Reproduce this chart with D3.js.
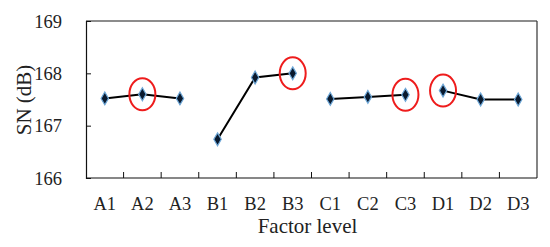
<!DOCTYPE html>
<html>
<head>
<meta charset="utf-8">
<script src="https://cdn.jsdelivr.net/npm/d3@7"></script>
<style>
  body { margin: 0; background: #fff; }
</style>
</head>
<body>
<div id="chart"></div>
<script>
// factor levels and SN ratios
const levels = ['A1', 'A2', 'A3', 'B1', 'B2', 'B3', 'C1', 'C2', 'C3', 'D1', 'D2', 'D3']
const groups = ['A', 'B', 'C', 'D']
const snValues = [167.52, 167.60, 167.52, 166.74, 167.92, 168.00, 167.51, 167.55, 167.59, 167.67, 167.50, 167.50]
const bestLevels = ['A2', 'B3', 'C3', 'D1']
const yTicks = [166, 167, 168, 169]

const width = 550
const height = 247
const margin = { top: 21, right: 13, bottom: 69, left: 86 }
const serif = "'Liberation Serif', 'Times New Roman', serif"

const svg = d3.select('#chart')
  .append('svg')
  .attr('width', width)
  .attr('height', height)
  .attr('font-family', serif)

const plotW = width - margin.left - margin.right
const plotH = height - margin.top - margin.bottom

const g = svg.append('g')
  .attr('transform', `translate(${margin.left},${margin.top})`)

const xScale = d3.scaleBand()
  .domain(levels)
  .range([0, plotW])

const yScale = d3.scaleLinear()
  .domain([166, 169])
  .range([plotH, 0])

// frame: top grey, right dark
g.append('line')
  .attr('x1', 0).attr('x2', plotW)
  .attr('y1', 0).attr('y2', 0)
  .attr('stroke', '#666').attr('stroke-width', 1.5)
g.append('line')
  .attr('x1', plotW).attr('x2', plotW)
  .attr('y1', 0).attr('y2', plotH)
  .attr('stroke', '#333').attr('stroke-width', 1.2)

// y axis, ticks pointing inwards
const yAxis = d3.axisLeft(yScale)
  .tickValues(yTicks)
  .tickSize(-5)
  .tickPadding(24)
  .tickFormat(d3.format('d'))

const yGroup = g.append('g').call(yAxis)
  .attr('font-family', serif)
  .attr('font-size', 18.5)
yGroup.select('.domain').attr('stroke', '#111').attr('stroke-width', 1.2)
yGroup.selectAll('.tick line').attr('stroke', '#111')
yGroup.selectAll('.tick text')
  .attr('fill', '#222')
  .attr('dy', '0.34em')

// x axis: ticks on the category boundaries, pointing up
const boundaries = levels.map((d, i) => i * xScale.step())
g.append('line')
  .attr('x1', 0).attr('x2', plotW)
  .attr('y1', plotH).attr('y2', plotH)
  .attr('stroke', '#111').attr('stroke-width', 1.2)
g.selectAll('.xtick')
  .data(boundaries.slice(1))
  .enter()
  .append('line')
    .attr('class', 'xtick')
    .attr('x1', d => d).attr('x2', d => d)
    .attr('y1', plotH).attr('y2', plotH - 6)
    .attr('stroke', '#111')

g.selectAll('.xlabel')
  .data(levels)
  .enter()
  .append('text')
    .attr('class', 'xlabel')
    .attr('x', d => xScale(d) + xScale.bandwidth() / 2)
    .attr('y', plotH + 32)
    .attr('text-anchor', 'middle')
    .attr('font-family', serif)
    .attr('font-size', 18.5)
    .attr('fill', '#222')
    .text(d => d)

// axis titles
svg.append('text')
  .attr('x', margin.left + plotW / 2 - 4)
  .attr('y', 233)
  .attr('text-anchor', 'middle')
  .attr('font-family', serif)
  .attr('font-size', 21)
  .attr('fill', '#222')
  .text('Factor level')

svg.append('text')
  .attr('transform', 'translate(31, 100) rotate(-90)')
  .attr('text-anchor', 'middle')
  .attr('font-family', serif)
  .attr('font-size', 21)
  .attr('fill', '#222')
  .text('SN (dB)')

// data, one line per factor
const points = levels.map((d, i) => ({ level: d, group: d[0], value: snValues[i] }))
const line = d3.line()
  .x(d => xScale(d.level) + xScale.bandwidth() / 2)
  .y(d => yScale(d.value))

groups.forEach(grp => {
  g.append('path')
    .datum(points.filter(p => p.group === grp))
    .attr('d', line)
    .attr('fill', 'none')
    .attr('stroke', '#000')
    .attr('stroke-width', 2)
})

const diamond = d3.symbol().type(d3.symbolDiamond).size(48)
g.selectAll('.marker')
  .data(points)
  .enter()
  .append('path')
    .attr('class', 'marker')
    .attr('d', diamond)
    .attr('transform', d => `translate(${xScale(d.level) + xScale.bandwidth() / 2},${yScale(d.value)})`)
    .attr('fill', '#0a1a2e')
    .attr('stroke', '#6fa8d8')
    .attr('stroke-width', 1.2)

// red rings round the best level of each factor
g.selectAll('.ring')
  .data(points.filter(p => bestLevels.includes(p.level)))
  .enter()
  .append('ellipse')
    .attr('class', 'ring')
    .attr('cx', d => xScale(d.level) + xScale.bandwidth() / 2)
    .attr('cy', d => yScale(d.value))
    .attr('rx', 13)
    .attr('ry', 16)
    .attr('fill', 'none')
    .attr('stroke', '#ee1c1c')
    .attr('stroke-width', 2)
</script>
</body>
</html>
